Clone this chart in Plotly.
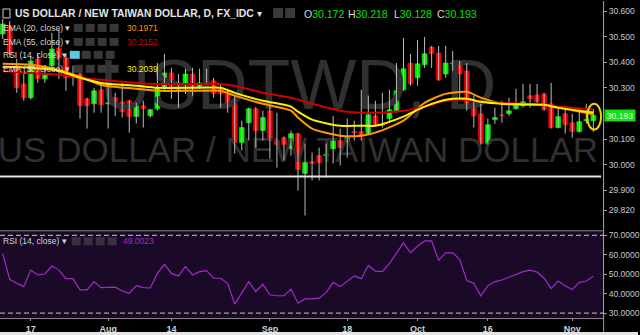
import plotly.graph_objects as go

W, H = 640, 335
def px(x): return x / W
def py(y): return 1 - y / H

FONT = "Liberation Sans, Arial, sans-serif"

# ---------------- data ----------------
dates = [
    "2017-07-11", "2017-07-12", "2017-07-13", "2017-07-14", "2017-07-17", "2017-07-18", "2017-07-19",
    "2017-07-20", "2017-07-21", "2017-07-24", "2017-07-25", "2017-07-26", "2017-07-27", "2017-07-28",
    "2017-07-31", "2017-08-01", "2017-08-02", "2017-08-03", "2017-08-04", "2017-08-07", "2017-08-08",
    "2017-08-09", "2017-08-10", "2017-08-11", "2017-08-14", "2017-08-15", "2017-08-16", "2017-08-17",
    "2017-08-18", "2017-08-21", "2017-08-22", "2017-08-23", "2017-08-24", "2017-08-25", "2017-08-28",
    "2017-08-29", "2017-08-30", "2017-08-31", "2017-09-01", "2017-09-04", "2017-09-05", "2017-09-06",
    "2017-09-07", "2017-09-08", "2017-09-11", "2017-09-12", "2017-09-13", "2017-09-14", "2017-09-15",
    "2017-09-18", "2017-09-19", "2017-09-20", "2017-09-21", "2017-09-22", "2017-09-25", "2017-09-26",
    "2017-09-27", "2017-09-28", "2017-09-29", "2017-10-02", "2017-10-03", "2017-10-04", "2017-10-05",
    "2017-10-06", "2017-10-09", "2017-10-10", "2017-10-11", "2017-10-12", "2017-10-13", "2017-10-16",
    "2017-10-17", "2017-10-18", "2017-10-19", "2017-10-20", "2017-10-23", "2017-10-24", "2017-10-25",
    "2017-10-26", "2017-10-27", "2017-10-30", "2017-10-31", "2017-11-01", "2017-11-02", "2017-11-03",
    "2017-11-06",
]

opens = [
    30.512, 30.543, 30.387, 30.316, 30.262, 30.414, 30.336, 30.387, 30.457, 30.418,
    30.348, 30.355, 30.258, 30.238, 30.293, 30.238, 30.262, 30.246, 30.250, 30.188,
    30.230, 30.191, 30.219, 30.301, 30.359, 30.297, 30.297, 30.355, 30.301, 30.316,
    30.328, 30.301, 30.277, 30.242, 30.086, 30.164, 30.219, 30.133, 30.211, 30.094,
    30.105, 30.062, 30.121, 29.965, 30.012, 30.035, 30.035, 30.062, 30.094, 30.090,
    30.129, 30.129, 30.121, 30.191, 30.156, 30.180, 30.211, 30.293, 30.398, 30.340,
    30.391, 30.461, 30.437, 30.355, 30.395, 30.398, 30.367, 30.242, 30.199, 30.082,
    30.176, 30.195, 30.199, 30.219, 30.230, 30.270, 30.273, 30.277, 30.238, 30.145,
    30.199, 30.164, 30.129, 30.172, 30.172,
]
highs = [
    30.570, 30.562, 30.414, 30.355, 30.426, 30.437, 30.390, 30.516, 30.531, 30.434,
    30.387, 30.367, 30.262, 30.301, 30.316, 30.316, 30.281, 30.320, 30.254, 30.242,
    30.250, 30.219, 30.398, 30.434, 30.379, 30.355, 30.375, 30.379, 30.375, 30.375,
    30.340, 30.316, 30.297, 30.270, 30.172, 30.223, 30.225, 30.211, 30.230, 30.203,
    30.110, 30.133, 30.125, 30.082, 30.047, 30.066, 30.082, 30.191, 30.141, 30.180,
    30.172, 30.293, 30.270, 30.250, 30.281, 30.293, 30.398, 30.496, 30.434, 30.488,
    30.500, 30.465, 30.465, 30.465, 30.445, 30.406, 30.398, 30.270, 30.238, 30.180,
    30.223, 30.250, 30.262, 30.297, 30.316, 30.316, 30.316, 30.281, 30.320, 30.223,
    30.230, 30.199, 30.223, 30.238, 30.218,
]
lows = [
    30.492, 30.422, 30.281, 30.250, 30.254, 30.320, 30.320, 30.375, 30.336, 30.289,
    30.309, 30.180, 30.141, 30.203, 30.203, 30.141, 30.191, 30.184, 30.125, 30.160,
    30.145, 30.184, 30.211, 30.289, 30.258, 30.223, 30.277, 30.270, 30.297, 30.312,
    30.262, 30.223, 30.203, 30.043, 30.055, 30.094, 30.066, 30.094, 30.023, 29.988,
    30.016, 30.035, 29.898, 29.800, 29.938, 29.938, 29.949, 30.004, 29.996, 30.027,
    30.094, 30.094, 30.117, 30.152, 30.145, 30.164, 30.203, 30.289, 30.309, 30.309,
    30.379, 30.379, 30.328, 30.340, 30.367, 30.258, 30.211, 30.145, 30.078, 30.078,
    30.160, 30.164, 30.191, 30.215, 30.223, 30.223, 30.242, 30.211, 30.141, 30.141,
    30.121, 30.105, 30.125, 30.160, 30.128,
]
closes = [
    30.551, 30.434, 30.301, 30.262, 30.406, 30.336, 30.352, 30.453, 30.418, 30.340,
    30.340, 30.230, 30.230, 30.289, 30.234, 30.242, 30.242, 30.207, 30.188, 30.230,
    30.219, 30.215, 30.301, 30.359, 30.297, 30.289, 30.355, 30.297, 30.320, 30.328,
    30.277, 30.277, 30.238, 30.086, 30.145, 30.219, 30.133, 30.184, 30.094, 30.078,
    30.078, 30.121, 29.980, 30.008, 30.004, 30.008, 30.039, 30.094, 30.066, 30.105,
    30.125, 30.109, 30.195, 30.156, 30.152, 30.215, 30.289, 30.375, 30.316, 30.395,
    30.434, 30.434, 30.332, 30.398, 30.398, 30.355, 30.219, 30.191, 30.082, 30.156,
    30.184, 30.191, 30.211, 30.234, 30.246, 30.258, 30.246, 30.215, 30.145, 30.188,
    30.156, 30.129, 30.168, 30.176, 30.193,
]

ema_dates = [
    "2017-07-11", "2017-07-17", "2017-07-21", "2017-07-26", "2017-07-31", "2017-08-07",
    "2017-08-10", "2017-08-18", "2017-08-23", "2017-08-25", "2017-08-31", "2017-09-06",
    "2017-09-07", "2017-09-11", "2017-09-15", "2017-09-20", "2017-09-22", "2017-09-28",
    "2017-10-03", "2017-10-06", "2017-10-11", "2017-10-13", "2017-10-18", "2017-10-26",
    "2017-10-30", "2017-11-06",
]
ema20 = [30.395, 30.391, 30.371, 30.344, 30.312, 30.297, 30.289, 30.289, 30.289, 30.270,
         30.238, 30.211, 30.184, 30.141, 30.113, 30.113, 30.125, 30.172, 30.242, 30.277,
         30.285, 30.262, 30.238, 30.234, 30.223, 30.1971]
ema30 = [30.383, 30.379, 30.367, 30.340, 30.320, 30.309, 30.301, 30.301, 30.301, 30.281,
         30.250, 30.227, 30.207, 30.176, 30.152, 30.152, 30.152, 30.188, 30.227, 30.254,
         30.258, 30.246, 30.238, 30.234, 30.223, 30.2039]
ema55 = [30.367, 30.359, 30.352, 30.340, 30.332, 30.320, 30.316, 30.316, 30.316, 30.309,
         30.281, 30.262, 30.254, 30.238, 30.211, 30.203, 30.203, 30.211, 30.227, 30.250,
         30.254, 30.246, 30.242, 30.234, 30.227, 30.2152]

rsi = [
    60.6, 47.4, 45.3, 43.6, 52.1, 49.6, 50.1, 54.2, 52.1, 47.7,
    47.7, 41.9, 41.9, 46.2, 43.1, 43.3, 43.3, 41.4, 40.2, 44.1,
    43.1, 42.9, 50.4, 55.1, 50.4, 49.1, 54.0, 49.6, 51.3, 51.8,
    47.9, 47.9, 45.3, 34.6, 40.2, 46.2, 41.1, 44.8, 39.4, 38.9,
    38.9, 42.3, 35.1, 37.3, 37.3, 37.7, 40.5, 45.8, 43.6, 46.5,
    49.1, 47.7, 54.5, 51.6, 51.3, 55.5, 60.6, 66.1, 61.0, 64.4,
    67.1, 67.1, 57.2, 61.0, 61.0, 57.6, 46.7, 45.3, 38.9, 44.0,
    46.2, 47.0, 48.4, 49.9, 51.3, 52.1, 51.1, 47.9, 42.6, 46.5,
    44.0, 42.1, 45.8, 46.5, 49.0023,
]

tick_dates = ["2017-07-17", "2017-08-01", "2017-08-14", "2017-09-01",
              "2017-09-18", "2017-10-02", "2017-10-16", "2017-11-01"]
tick_labels = ["17", "Aug", "14", "Sep", "18", "Oct", "16", "Nov"]
price_ticks = [29.82, 29.9, 30.0, 30.1, 30.3, 30.4, 30.5, 30.6]
rsi_ticks = [30, 40, 50, 60, 70]
rsi_bands = [70, 30]
hline_level = 29.953
title_text = "US DOLLAR / NEW TAIWAN DOLLAR, D, FX_IDC"
wm_big = "USDTWD, D"
wm_small = "US DOLLAR / NEW TAIWAN DOLLAR"

# ---------------- styles ----------------
UP, DOWN, WICK = "#00f000", "#f00000", "#bcbcbc"
C20, C55, C30, CRSI = "#ff9800", "#d00000", "#ffee00", "#a02cc8"
XR = [-0.38, 85.39]

fig = go.Figure()

# watermark (behind candles)
fig.add_trace(go.Scatter(
    x=["2017-09-07", "2017-09-07"], y=[30.285, 30.045], mode="text",
    text=[wm_big, wm_small], textposition="middle center",
    textfont=dict(family=FONT, size=[70, 35], color="#303030"),
    hoverinfo="skip", xaxis="x", yaxis="y", cliponaxis=False))

# wicks
wx, wy = [], []
for d, lo, hi in zip(dates, lows, highs):
    wx += [d, d, None]
    wy += [lo, hi, None]
fig.add_trace(go.Scatter(x=wx, y=wy, mode="lines", line=dict(color=WICK, width=1),
                         hoverinfo="skip", xaxis="x", yaxis="y"))

# bodies
cols = [UP if c >= o else DOWN for o, c in zip(opens, closes)]
fig.add_trace(go.Bar(
    x=dates, y=[abs(c - o) for o, c in zip(opens, closes)],
    base=[min(o, c) for o, c in zip(opens, closes)],
    width=0.7, marker=dict(color=cols, line=dict(color=cols, width=0.6)),
    xaxis="x", yaxis="y"))

# EMAs
for vals, col in [(ema20, C20), (ema55, C55), (ema30, C30)]:
    fig.add_trace(go.Scatter(x=ema_dates, y=vals, mode="lines",
                             line=dict(color=col, width=2, shape="spline", smoothing=0.7),
                             xaxis="x", yaxis="y"))

# RSI
fig.add_trace(go.Scatter(x=dates, y=rsi, mode="lines", line=dict(color=CRSI, width=1.2),
                         xaxis="x2", yaxis="y2"))

axis_common = dict(showgrid=False, zeroline=False)
fig.update_layout(
    width=W, height=H, margin=dict(l=0, r=0, t=0, b=0),
    paper_bgcolor="#000000", plot_bgcolor="rgba(0,0,0,0)",
    showlegend=False, font=dict(family=FONT),
    xaxis=dict(domain=[0, px(605)], type="category", categoryorder="array",
               categoryarray=dates, range=XR, showticklabels=False, showline=False,
               ticks="", anchor="y", **axis_common),
    yaxis=dict(domain=[py(229), 1], range=[29.746, 30.641], side="right", anchor="x",
               tickmode="array", tickvals=price_ticks,
               ticktext=[f"{v:.3f}" for v in price_ticks],
               ticks="outside", ticklen=3, tickcolor="#9a9a9a",
               tickfont=dict(size=8.5, color="#c8c8c8", family=FONT),
               showline=True, linecolor="#9a9a9a", linewidth=1, **axis_common),
    xaxis2=dict(domain=[0, px(605)], type="category", categoryorder="array",
                categoryarray=dates, range=XR, anchor="y2",
                tickmode="array", tickvals=tick_dates,
                ticktext=[f"<b>{t}</b>" for t in tick_labels],
                ticks="outside", ticklen=2, tickcolor="#9a9a9a",
                tickfont=dict(size=9, color="#d0d0d0", family=FONT),
                showline=False, **axis_common),
    yaxis2=dict(domain=[py(318), py(231)], range=[27.44, 72.05], side="right", anchor="x2",
                tickmode="array", tickvals=rsi_ticks,
                ticktext=[f"{v:.4f}" for v in rsi_ticks],
                ticks="outside", ticklen=3, tickcolor="#9a9a9a",
                tickfont=dict(size=8.5, color="#c8c8c8", family=FONT),
                showline=True, linecolor="#9a9a9a", linewidth=1, **axis_common),
)

shapes = []
def rect(x0, y0, x1, y1, fill, layer="above", line=None):
    shapes.append(dict(type="rect", xref="paper", yref="paper",
                       x0=px(x0), x1=px(x1), y0=py(y1), y1=py(y0),
                       fillcolor=fill, line=line or dict(width=0), layer=layer))
def pline(x0, y0, x1, y1, color, width=1, dash=None):
    shapes.append(dict(type="line", xref="paper", yref="paper",
                       x0=px(x0), x1=px(x1), y0=py(y0), y1=py(y1),
                       line=dict(color=color, width=width, dash=dash)))

rect(0, 231, 605, 318, "#1a0a28", layer="below")
pline(0, 230.5, 606, 230.5, "#8a8a8a")
pline(0, 318.5, 606, 318.5, "#8a8a8a")
pline(605.5, 0, 605.5, 332, "#9a9a9a")
rect(0, 332, 640, 335, "#e4e4e4")
for lvl in rsi_bands:
    shapes.append(dict(type="line", xref="paper", yref="y2", x0=0, x1=px(606), y0=lvl, y1=lvl,
                       line=dict(color="#c8c8c8", width=1, dash="5px,3px")))
shapes.append(dict(type="line", xref="paper", yref="y", x0=0, x1=px(603),
                   y0=hline_level, y1=hline_level, line=dict(color="#e6e6e6", width=2)))
shapes.append(dict(type="circle", xref="paper", yref="paper",
                   x0=px(589), x1=px(603), y0=py(129), y1=py(103),
                   line=dict(color="#ecd800", width=2)))
# title icon + buttons
rect(3, 8, 10, 17, "rgba(0,0,0,0)", line=dict(color="#d0d0d0", width=1))
rect(274, 7, 284, 17, "#3a3a3a")
rect(286, 7, 296, 17, "#3a3a3a")
row_y = [27, 41, 54, 68]
for i, cy in enumerate(row_y):
    xs = [(70, 80), (82, 91), (94, 103), (106, 115)] if i == 2 else [(74, 83), (86, 95), (98, 107), (110, 119)]
    for j, (a, b) in enumerate(xs):
        rect(a, cy - 4, b, cy + 4, "#5bc8e8" if (i == 2 and j == 0) else "#383838")
for (a, b) in [(72, 81), (84, 93), (96, 105), (108, 117)]:
    rect(a, 237, b, 245, "#3a3042")

ann = []
def text(x, y, s, size, color, anchor="left", **kw):
    ann.append(dict(xref="paper", yref="paper", x=px(x), y=py(y), text=s, showarrow=False,
                    xanchor=anchor, yanchor="middle",
                    font=dict(family=FONT, size=size, color=color), **kw))

text(13, 12.5, f"<b>{title_text}</b> ▾", 10.4, "#e4e4e4")
ohlc_vals = [opens[-1], highs[-1], lows[-1], closes[-1]]
for xx, lab, v in zip([303, 347, 393, 436], "OHLC", ohlc_vals):
    text(xx, 13, f"{lab}<span style='color:#00e600'>{v:.3f}</span>", 10.5, "#d8d8d8")

legend_rows = [("EMA (20, close)", f"{ema20[-1]:.4f}", C20),
               ("EMA (55, close)", f"{ema55[-1]:.4f}", C55),
               ("RSI (14, close)", None, None),
               ("EMA (30, close)", f"{ema30[-1]:.4f}", C30)]
for cy, (lab, val, col) in zip(row_y, legend_rows):
    text(1, cy, f"{lab} ▾", 8.5, "#d4d4d4")
    if val:
        text(125, cy, val, 8.5, col)
text(1, 241, "RSI (14, close) ▾", 8.5, "#d4d4d4")
text(121, 241, f"{rsi[-1]:.4f}", 8.5, CRSI)
# last price tag
ann.append(dict(xref="paper", yref="y", x=px(606), y=closes[-1], text=f"{closes[-1]:.3f}",
                showarrow=False, xanchor="left", yanchor="middle", width=30, height=11,
                bgcolor="#12e012", borderpad=0,
                font=dict(family=FONT, size=8.5, color="#f0fff0")))

fig.update_layout(shapes=shapes, annotations=ann)
fig.write_html("out.html")
